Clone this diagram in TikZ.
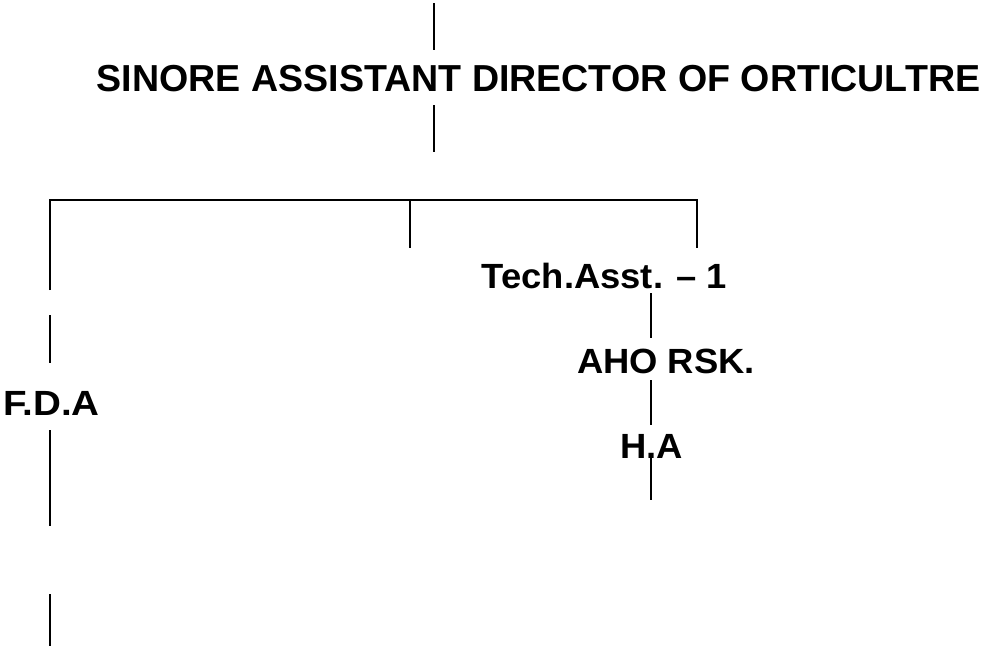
\documentclass[tikz,border=0pt]{standalone}
\usepackage{fontspec}
\setmainfont{Liberation Sans}
\usepackage{tikz}
\usepackage{xcolor}

\tikzset{label text/.style={inner sep=0, anchor=base, xscale=1.04, font=\bfseries\fontsize{35}{38}\selectfont}}

\begin{document}
\begin{tikzpicture}[x=1pt, y=-1pt, line width=1.8pt]
\useasboundingbox (0,0) rectangle (985,649);

%title coordinates
\coordinate (ttop) at (434,3); \coordinate (tmidt) at (434,50); \coordinate (tmidb) at (434,105); \coordinate (tbot) at (434,152);

%branch coordinates
\coordinate (bleft) at (50,200); \coordinate (bmid) at (410,200); \coordinate (bright) at (697,200);
\coordinate (bmidd) at (410,248); \coordinate (brightd) at (697,248);

%left column coords
\coordinate (la) at (50,290); \coordinate (lb) at (50,315); \coordinate (lc) at (50,363);
\coordinate (ld) at (50,430); \coordinate (le) at (50,526);
\coordinate (lf) at (50,594); \coordinate (lg) at (50,646);

%right column coords
\coordinate (ra) at (651,293); \coordinate (rb) at (651,338);
\coordinate (rc) at (651,380); \coordinate (rd) at (651,425);
\coordinate (re) at (651,458); \coordinate (rf) at (651,500);

%labels
\node [label text, xscale=1/1.04, font=\bfseries\fontsize{37.6}{40}\selectfont] (sado) at (538.5,91) {SINORE ASSISTANT DIRECTOR OF ORTICULTRE};
\node [label text] (techasst) at (604.5,288) {Tech.Asst. -- 1};
\node [label text] (aho) at (666,373) {AHO RSK.};
\node [label text] (ha) at (651.5,458) {H.A};
\node [label text, xscale=1.06] (fda) at (51.5,415) {F.D.A};

%title lines
\draw (ttop) -- (tmidt);
\draw (tmidb) -- (tbot);

%branch draw
\draw (la) -- (bleft) -- (bright) -- (brightd);
\draw (bmid) -- (bmidd);

%left column draw
\draw (lb) -- (lc);
\draw (ld) -- (le);
\draw (lf) -- (lg);

%right column draw
\draw (ra) -- (rb);
\draw (rc) -- (rd);
\draw (re) -- (rf);

\end{tikzpicture}
\end{document}
